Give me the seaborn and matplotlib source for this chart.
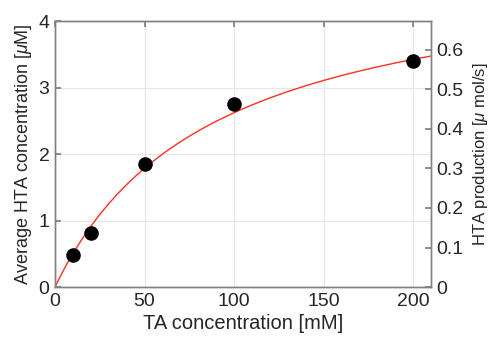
import matplotlib
matplotlib.use("Agg")
import matplotlib.pyplot as plt
import seaborn as sns
import pandas as pd

# measured points
ta_conc = [10, 20, 50, 100, 200]
hta_conc = [0.48, 0.82, 1.85, 2.75, 3.40]

# fitted curve
fit_x = [0, 2.5, 5, 7.5, 10, 15, 20, 25, 30, 35, 40, 45, 50, 55, 60, 65, 70, 75,
         80, 85, 90, 100, 110, 120, 130, 140, 150, 160, 170, 180, 190, 200, 210]
fit_y = [0, 0.136, 0.265, 0.387, 0.503, 0.718, 0.913, 1.091, 1.253, 1.403, 1.541,
         1.668, 1.786, 1.896, 1.999, 2.094, 2.184, 2.268, 2.348, 2.422, 2.493,
         2.622, 2.739, 2.844, 2.940, 3.027, 3.107, 3.181, 3.248, 3.311, 3.369,
         3.424, 3.474]

x_ticks = [0, 50, 100, 150, 200]
left_ticks = [0, 1, 2, 3, 4]
right_ticks = [0, 0.1, 0.2, 0.3, 0.4, 0.5, 0.6]
right_labels = ["0", "0.1", "0.2", "0.3", "0.4", "0.5", "0.6"]

sns.set_theme(style="whitegrid")
fam = "Liberation Sans"
plt.rcParams["font.family"] = [fam, "DejaVu Sans"]
plt.rcParams["mathtext.fontset"] = "custom"
plt.rcParams["mathtext.it"] = fam + ":italic"
plt.rcParams["mathtext.rm"] = fam

edge = "#808080"
txt = "#262626"

fig = plt.figure(figsize=(4.91, 3.45), dpi=100)
ax = fig.add_axes([0.112, 0.168, 0.766, 0.771])

df_pts = pd.DataFrame({"x": ta_conc, "y": hta_conc})
df_fit = pd.DataFrame({"x": fit_x, "y": fit_y})

sns.lineplot(data=df_fit, x="x", y="y", ax=ax, color="#ff3020", linewidth=1.0, zorder=2)
sns.scatterplot(data=df_pts, x="x", y="y", ax=ax, color="black", s=110,
                edgecolor="black", linewidth=0, zorder=3)

ax.set_xlim(0, 210)
ax.set_ylim(0, 4)
ax.set_xticks(x_ticks)
ax.set_yticks(left_ticks)
ax.set_xlabel("TA concentration [mM]", fontsize=14.5, color=txt, labelpad=3)
ax.set_ylabel("Average HTA concentration [$\\mu$M]", fontsize=13, color=txt, labelpad=3)
ax.grid(True, color="#e6e6e6", linewidth=0.8)
ax.tick_params(axis="both", direction="in", length=4, color=edge, labelsize=14,
               labelcolor=txt, pad=4, top=True)
for sp in ax.spines.values():
    sp.set_color(edge)
    sp.set_linewidth(1.0)

ax2 = ax.twinx()
ax2.set_ylim(0, 0.673)
ax2.set_yticks(right_ticks)
ax2.set_yticklabels(right_labels)
ax2.grid(False)
ax2.set_ylabel("HTA production [$\\mu$ mol/s]", fontsize=12, color=txt, labelpad=5)
ax2.tick_params(axis="y", direction="in", length=4, color=edge, labelsize=14,
                labelcolor=txt, pad=4)
for sp in ax2.spines.values():
    sp.set_color(edge)
    sp.set_linewidth(1.0)

fig.savefig("out.png", dpi=100, facecolor="white")
